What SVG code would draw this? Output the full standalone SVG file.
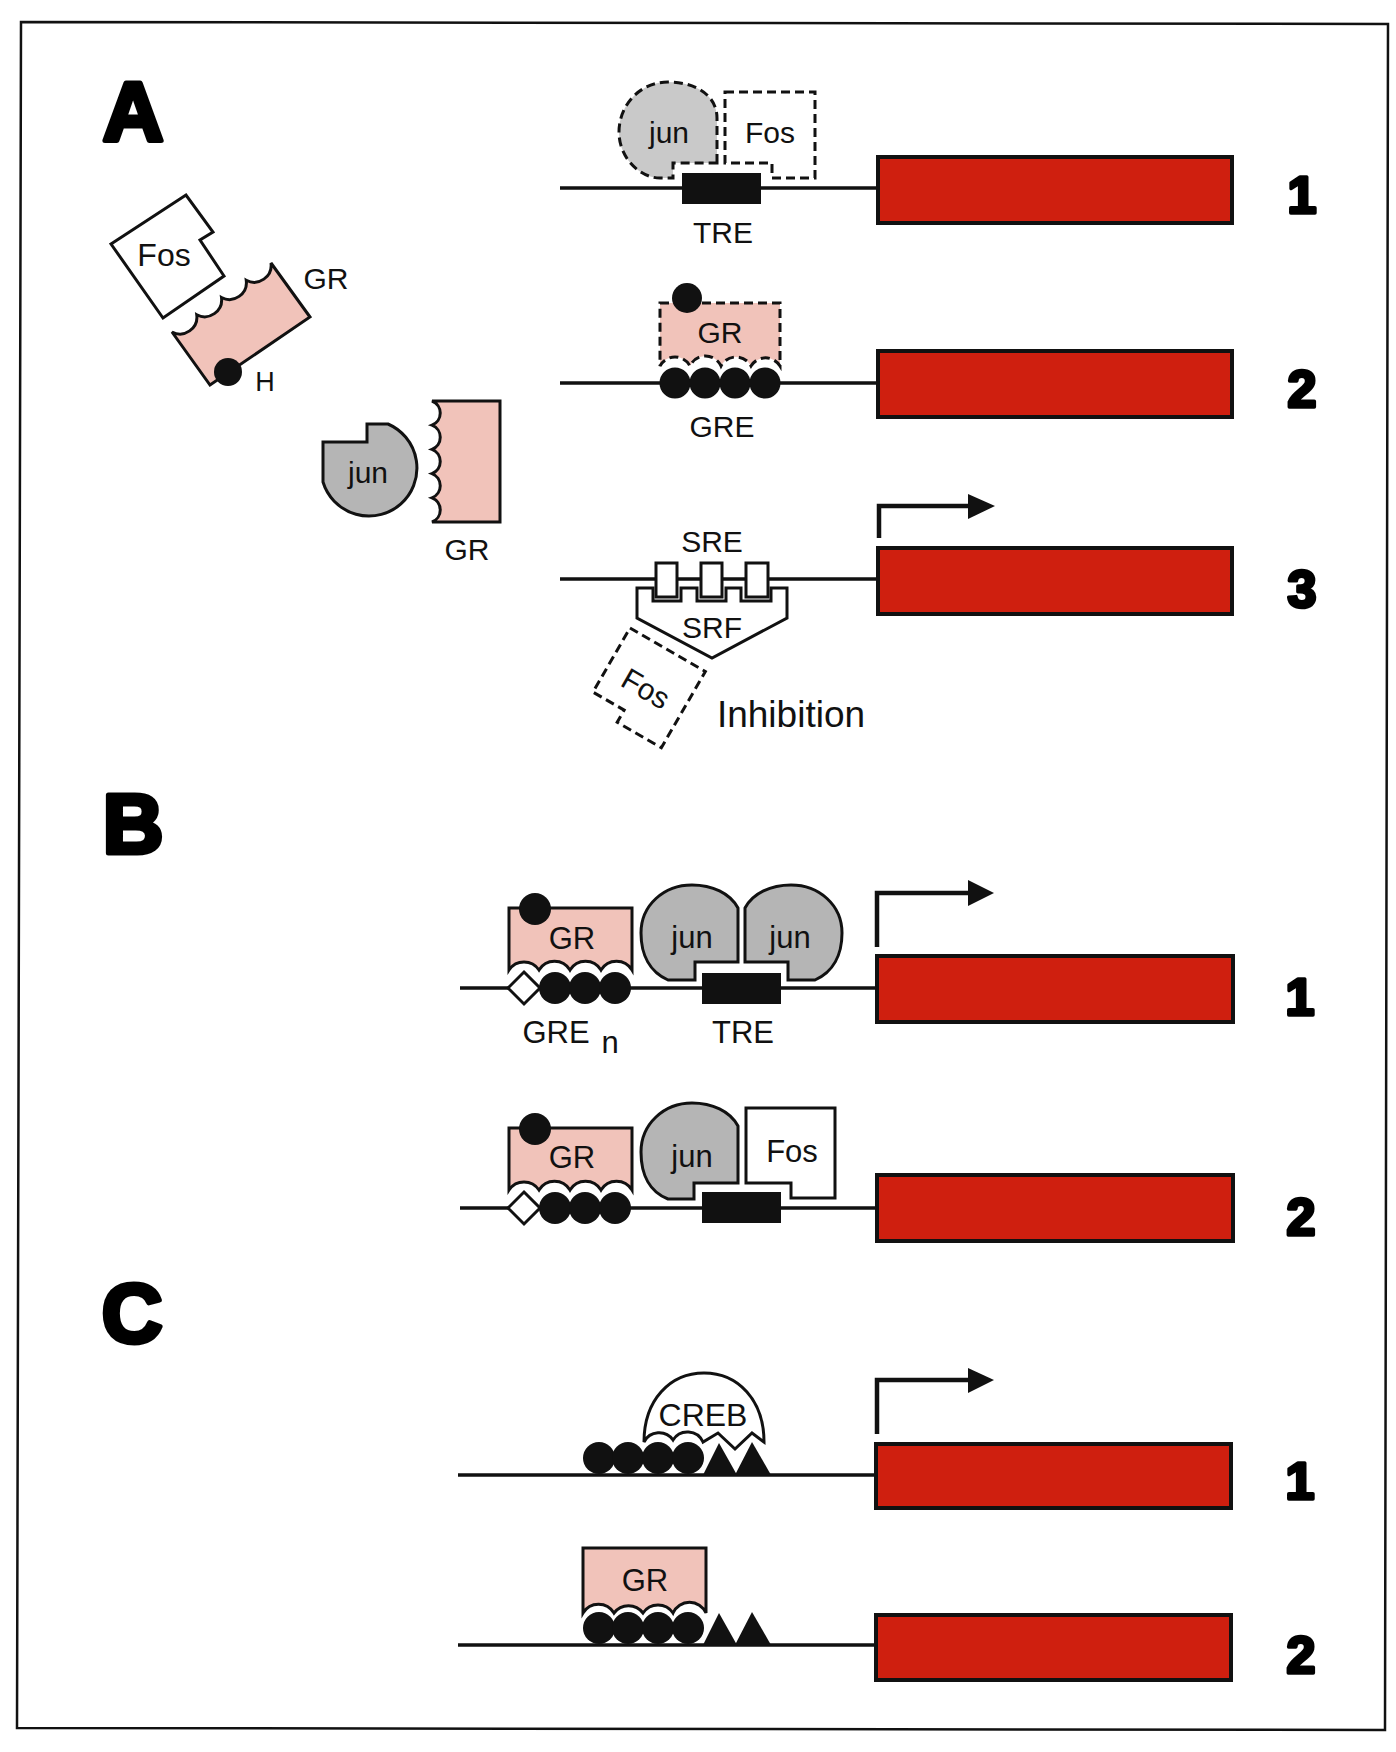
<svg xmlns="http://www.w3.org/2000/svg" width="1396" height="1752" viewBox="0 0 1396 1752">
<style>
.t{font-family:"Liberation Sans",Arial,"DejaVu Sans",sans-serif;fill:#111;text-anchor:middle}
.big{font-family:"Liberation Sans",Arial,sans-serif;font-weight:bold;fill:#000;stroke:#000;stroke-width:5;stroke-linejoin:round;text-anchor:middle}
.num{font-family:"Liberation Sans",Arial,sans-serif;font-weight:bold;fill:#000;stroke:#000;stroke-width:3.5;stroke-linejoin:round;text-anchor:middle;font-size:52px}
.ol{stroke:#111;stroke-width:3;stroke-linejoin:miter}
.dash{stroke:#111;stroke-width:3;stroke-dasharray:9 5}
.pink{fill:#f1c3ba}
.gray{fill:#b5b5b5}
.lgray{fill:#c9c9c9}
.wh{fill:#fff}
.blk{fill:#111}
.bar{fill:#cf1f0f;stroke:#111;stroke-width:4}
.dna{stroke:#111;stroke-width:3.5;fill:none}
.arr{stroke:#111;stroke-width:4.5;fill:none}
</style>
<rect x="0" y="0" width="1396" height="1752" fill="#fff"/>
<polygon points="21,22 1388,24 1385,1730 17,1728" fill="none" stroke="#111" stroke-width="2.5"/>

<g id="panel-labels">
<text class="big" x="133" y="141" font-size="84">A</text>
<text class="big" x="133" y="853" font-size="84">B</text>
<text class="big" x="132" y="1342" font-size="84">C</text>
<text class="num" x="1302" y="213">1</text>
<text class="num" x="1302" y="407">2</text>
<text class="num" x="1302" y="607">3</text>
<text class="num" x="1300" y="1015">1</text>
<text class="num" x="1301" y="1235">2</text>
<text class="num" x="1300" y="1499">1</text>
<text class="num" x="1301" y="1673">2</text>
</g>

<g id="connectors">
<line class="dna" x1="560" y1="188" x2="878" y2="188"/>
<line class="dna" x1="560" y1="383" x2="878" y2="383"/>
<line class="dna" x1="560" y1="579" x2="878" y2="579"/>
<line class="dna" x1="460" y1="988" x2="877" y2="988"/>
<line class="dna" x1="460" y1="1208" x2="877" y2="1208"/>
<line class="dna" x1="458" y1="1475" x2="876" y2="1475"/>
<line class="dna" x1="458" y1="1645" x2="876" y2="1645"/>
<path class="arr" d="M879,538 V506 H972"/>
<polygon class="blk" points="968,494 995,506 968,519"/>
<path class="arr" d="M877,947 V893 H972"/>
<polygon class="blk" points="968,880 994,893 968,906"/>
<path class="arr" d="M877,1434 V1380 H972"/>
<polygon class="blk" points="968,1368 994,1380 968,1393"/>
</g>

<g id="genes">
<rect class="bar" x="878" y="157" width="354" height="66"/>
<rect class="bar" x="878" y="351" width="354" height="66"/>
<rect class="bar" x="878" y="548" width="354" height="66"/>
<rect class="bar" x="877" y="956" width="356" height="66"/>
<rect class="bar" x="877" y="1175" width="356" height="66"/>
<rect class="bar" x="876" y="1444" width="355" height="64"/>
<rect class="bar" x="876" y="1615" width="355" height="65"/>
</g>

<g id="A-free-Fos-GR">
<polygon class="wh ol" points="111,244 186,195 213,232 200,240 224,276 163,318"/>
<text class="t" x="164" y="266" font-size="32">Fos</text>
<path class="pink ol" d="M172,332 A17 17 0 0 0 196.75,314.75 A17 17 0 0 0 221.5,297.5 A17 17 0 0 0 246.25,280.25 A17 17 0 0 0 271,263 L310,317 L210,385 Z"/>
<circle class="blk" cx="228" cy="372" r="14"/>
<text class="t" x="265" y="391" font-size="27">H</text>
<text class="t" x="326" y="289" font-size="30">GR</text>
</g>

<g id="A-free-jun-GR">
<path class="gray ol" d="M323,442 H367 V424 H388 A48 48 0 1 1 323,482 Z"/>
<text class="t" x="368" y="483" font-size="30">jun</text>
<path class="pink ol" d="M500,401 V522 H432 A13 13 0 0 0 432,497.8 A13 13 0 0 0 432,473.6 A13 13 0 0 0 432,449.4 A13 13 0 0 0 432,425.2 A13 13 0 0 0 432,401 Z"/>
<text class="t" x="467" y="560" font-size="30">GR</text>
</g>

<g id="A1">
<rect class="blk" x="682" y="173" width="79" height="31"/>
<path class="lgray dash" d="M717,163 V118 C717,95 695,82 668,82 C640,82 619,105 619,132 C619,158 640,178 660,178 H673 V163 Z"/>
<text class="t" x="669" y="143" font-size="30">jun</text>
<path class="wh dash" d="M725,92 H815 V178 H772 V163 H725 Z"/>
<text class="t" x="770" y="143" font-size="30">Fos</text>
<text class="t" x="723" y="243" font-size="30">TRE</text>
</g>

<g id="A2">
<circle class="blk" cx="675" cy="383" r="15.5"/>
<circle class="blk" cx="705" cy="383" r="15.5"/>
<circle class="blk" cx="735" cy="383" r="15.5"/>
<circle class="blk" cx="765" cy="383" r="15.5"/>
<path class="pink dash" d="M660,303 H780 V366 A17 17 0 0 0 751,366 A17 17 0 0 0 721,366 A17 17 0 0 0 690,366 A17 17 0 0 0 660,366 Z"/>
<circle class="blk" cx="687" cy="298" r="15"/>
<text class="t" x="720" y="343" font-size="30">GR</text>
<text class="t" x="722" y="437" font-size="30">GRE</text>
</g>

<g id="A3">
<path class="wh ol" d="M637,588 H653 V601 H681 V588 H697 V601 H726 V588 H741 V601 H771 V588 H787 V618 L712,658 L637,618 Z"/>
<rect class="wh ol" x="656" y="563" width="21" height="34"/>
<rect class="wh ol" x="701" y="563" width="21" height="34"/>
<rect class="wh ol" x="746" y="563" width="22" height="34"/>
<text class="t" x="712" y="552" font-size="30">SRE</text>
<text class="t" x="712" y="638" font-size="30">SRF</text>
<g transform="translate(630,628) rotate(30)">
<path class="wh dash" d="M0,0 H87 V88 H36 V74 H0 Z"/>
<text class="t" x="44" y="55" font-size="30">Fos</text>
</g>
<text class="t" x="791" y="727" font-size="37">Inhibition</text>
</g>

<g id="B1">
<rect class="blk" x="702" y="973" width="79" height="31"/>
<path class="gray ol" d="M738,962 H695 V980 H668 C650,972 641,955 641,933 C641,905 664,885 692,885 C712,885 730,893 738,908 Z"/>
<text class="t" x="692" y="948" font-size="31">jun</text>
<path class="gray ol" d="M745,962 H788 V980 H815 C833,972 842,955 842,933 C842,905 819,885 791,885 C771,885 753,893 745,908 Z"/>
<text class="t" x="790" y="948" font-size="31">jun</text>
<polygon class="wh ol" points="524,972 540,988 524,1004 508,988"/>
<circle class="blk" cx="555" cy="988" r="16"/>
<circle class="blk" cx="585" cy="988" r="16"/>
<circle class="blk" cx="615" cy="988" r="16"/>
<path class="pink ol" d="M509,908 H632 V970 A18 18 0 0 0 601,970 A18 18 0 0 0 570,970 A18 18 0 0 0 539,970 A18 18 0 0 0 509,970 Z"/>
<circle class="blk" cx="535" cy="909" r="16"/>
<text class="t" x="572" y="949" font-size="31">GR</text>
<text class="t" x="556" y="1043" font-size="31">GRE</text>
<text class="t" x="610" y="1053" font-size="31">n</text>
<text class="t" x="743" y="1043" font-size="31">TRE</text>
</g>

<g id="B2">
<rect class="blk" x="702" y="1192" width="79" height="31"/>
<path class="gray ol" d="M738,1183 H694 V1199 H668 C650,1192 641,1175 641,1152 C641,1124 664,1103 692,1103 C712,1103 730,1111 738,1126 Z"/>
<text class="t" x="692" y="1167" font-size="31">jun</text>
<path class="wh ol" d="M746,1108 H835 V1198 H791 V1183 H746 Z"/>
<text class="t" x="792" y="1162" font-size="31">Fos</text>
<polygon class="wh ol" points="524,1192 540,1208 524,1224 508,1208"/>
<circle class="blk" cx="555" cy="1208" r="16"/>
<circle class="blk" cx="585" cy="1208" r="16"/>
<circle class="blk" cx="615" cy="1208" r="16"/>
<path class="pink ol" d="M509,1128 H632 V1190 A18 18 0 0 0 601,1190 A18 18 0 0 0 570,1190 A18 18 0 0 0 539,1190 A18 18 0 0 0 509,1190 Z"/>
<circle class="blk" cx="535" cy="1129" r="16"/>
<text class="t" x="572" y="1168" font-size="31">GR</text>
</g>

<g id="C1">
<circle class="blk" cx="599" cy="1458" r="16"/>
<circle class="blk" cx="628" cy="1458" r="16"/>
<circle class="blk" cx="658" cy="1458" r="16"/>
<circle class="blk" cx="688" cy="1458" r="16"/>
<polygon class="blk" points="703,1475 719,1443 737,1475"/>
<polygon class="blk" points="735,1475 752,1442 771,1475"/>
<path class="wh ol" d="M644,1442 C644,1400 670,1373 704,1373 C738,1373 764,1400 764,1442 L752,1433 L735,1449 L718,1433 L703,1442 A17 17 0 0 0 673,1440 A17 17 0 0 0 644,1442 Z"/>
<text class="t" x="703" y="1426" font-size="32">CREB</text>
</g>

<g id="C2">
<circle class="blk" cx="599" cy="1628" r="16"/>
<circle class="blk" cx="628" cy="1628" r="16"/>
<circle class="blk" cx="658" cy="1628" r="16"/>
<circle class="blk" cx="688" cy="1628" r="16"/>
<polygon class="blk" points="703,1645 719,1613 737,1645"/>
<polygon class="blk" points="735,1645 752,1612 771,1645"/>
<path class="pink ol" d="M583,1548 H706 V1613 A18 18 0 0 0 673,1613 A18 18 0 0 0 643,1613 A18 18 0 0 0 614,1613 A18 18 0 0 0 583,1613 Z"/>
<text class="t" x="645" y="1591" font-size="31">GR</text>
</g>
</svg>
